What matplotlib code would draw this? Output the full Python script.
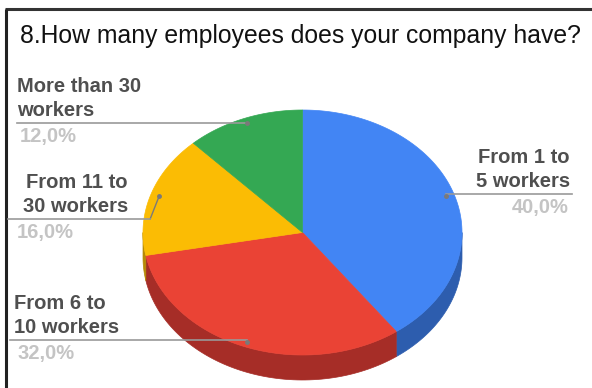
import numpy as np
import matplotlib
matplotlib.use("Agg")
import matplotlib.pyplot as plt
from matplotlib.patches import Polygon

plt.rcParams['font.family'] = ['Liberation Sans', 'DejaVu Sans']

# survey answers
title = "8.How many employees does your company have?"
categories = ["From 1 to\n5 workers", "From 6 to\n10 workers",
              "From 11 to\n30 workers", "More than 30\nworkers"]
shares = [40.0, 32.0, 16.0, 12.0]
top_colors = ["#4285F4", "#EA4335", "#FBBC04", "#34A853"]
side_colors = ["#2D5DAE", "#A62D27", "#B58A06", "#237A3B"]

W, H = 592, 388
fig = plt.figure(figsize=(W / 100, H / 100), dpi=100)
ax = fig.add_axes([0, 0, 1, 1])
ax.set_xlim(0, W)
ax.set_ylim(H, 0)
ax.axis('off')

# frame lines (top and left)
ax.plot([5, W], [9, 9], color="#333333", lw=2.2, solid_capstyle='butt')
ax.plot([6, 6], [9, H], color="#222222", lw=2.2, solid_capstyle='butt')

ax.text(300, 43, title, fontsize=17.8, color="#111111", ha='center', va='baseline')

# ellipse geometry of the tilted pie (pixels)
cx, cy, a, b, depth = 302.5, 232.5, 159.5, 122.5, 25


def rim(t, dy=0.0):
    t = np.radians(t)
    return np.column_stack([cx + a * np.cos(t), cy - b * np.sin(t) + dy])


cum = np.concatenate([[0], np.cumsum(shares)]) / sum(shares) * 360
starts = 90 - cum[1:]
ends = 90 - cum[:-1]

# side wall, only the front (lower) half of the rim shows
for s, e, col in zip(starts, ends, side_colors):
    s2, e2 = s % 360, e % 360
    if e2 <= s2:
        e2 += 360
    lo, hi = max(s2, 180), min(e2, 360)
    if hi <= lo:
        continue
    t = np.linspace(lo, hi, 80)
    pts = np.vstack([rim(t), rim(t[::-1], depth)])
    ax.add_patch(Polygon(pts, closed=True, fc=col, ec=col, lw=0.5))

# top face
for s, e, col in zip(starts, ends, top_colors):
    t = np.linspace(s, e, 120)
    pts = np.vstack([[cx, cy], rim(t)])
    ax.add_patch(Polygon(pts, closed=True, fc=col, ec=col, lw=0.5))

# labels: end of the underline, text anchor and alignment
label_y = [194, 340, 219, 123]
label_x = [572, 10, 8, 17]
text_x = [570, 14, 128, 17]
pct_x = [569, 17, 17, 20]
text_ha = ['right', 'left', 'right', 'left']
pct_ha = ['right', 'left', 'left', 'left']
mids = (starts + ends) / 2
for i, cat in enumerate(categories):
    dot = rim([mids[i]])[0]
    dot = cx + (dot[0] - cx) * 0.945, cy + (dot[1] - cy) * 0.96
    ly = label_y[i]
    # leader from the dot to the underline
    if abs(dot[1] - ly) > 3:
        knee = dot[0] - 9 if label_x[i] < cx else dot[0] + 9
        ax.plot([dot[0], knee], [dot[1], ly], color="#7a7a7a", lw=1.0)
        start_x = knee
    else:
        start_x = dot[0]
    ax.plot([start_x, label_x[i]], [ly, ly], color="#999999", lw=1.2)
    ax.plot(*dot, marker='o', ms=2.5, color="#7a7a7a")
    ax.text(text_x[i], ly - 7, cat, fontsize=14.5, fontweight='bold',
            color="#4f4f4f", ha=text_ha[i], va='baseline',
            multialignment=text_ha[i], linespacing=1.35)
    pct = f"{shares[i]:.1f}%".replace('.', ',')
    ax.text(pct_x[i], ly + 19, pct, fontsize=14.5, fontweight='bold',
            color="#c4c4c4", ha=pct_ha[i], va='baseline')

fig.savefig("out.png", dpi=100)
